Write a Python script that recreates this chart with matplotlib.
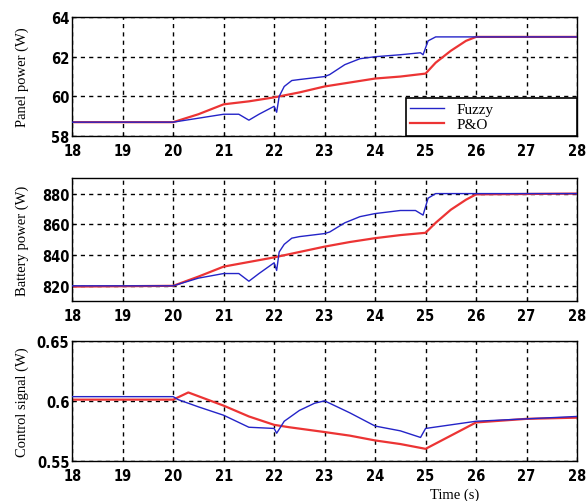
import numpy as np
import matplotlib
matplotlib.use("Agg")
import matplotlib.pyplot as plt

# ---- datos ----
# Potencia del panel (W)
t_pan_fuzzy = [18, 20, 20.5, 21, 21.3, 21.5, 21.7, 22, 22.05, 22.1, 22.2, 22.35, 22.5,
               23, 23.1, 23.4, 23.7, 24, 24.5, 24.9, 24.95, 25.05, 25.2, 26, 28]
pan_fuzzy = [58.7, 58.7, 58.9, 59.1, 59.1, 58.8, 59.1, 59.5, 59.2, 60.0, 60.5, 60.8, 60.85,
             61.0, 61.1, 61.6, 61.9, 62.0, 62.1, 62.2, 62.1, 62.8, 63.0, 63.0, 63.0]
t_pan_po = [18, 20, 20.5, 21, 21.5, 22, 22.5, 23, 23.5, 24, 24.5, 25, 25.2, 25.5, 25.8, 26, 28]
pan_po = [58.7, 58.7, 59.1, 59.6, 59.75, 59.95, 60.2, 60.5, 60.7, 60.9, 61.0, 61.15,
          61.7, 62.3, 62.8, 63.0, 63.0]

# Potencia de la bateria (W)
t_bat_fuzzy = [18, 20, 20.5, 21, 21.3, 21.5, 21.7, 22, 22.05, 22.1, 22.2, 22.35, 22.5,
               23, 23.1, 23.4, 23.7, 24, 24.5, 24.8, 24.95, 25.05, 25.2, 26, 28]
bat_fuzzy = [820, 820, 825, 828, 828, 823, 828, 835, 830, 842, 847, 851, 852,
             854, 855, 861, 865, 867, 869, 869, 866, 877, 880, 880, 880]
t_bat_po = [18, 20, 20.5, 21, 21.5, 22, 22.5, 23, 23.5, 24, 24.5, 25, 25.2, 25.5, 25.8, 26, 28]
bat_po = [819.5, 820, 826, 832.5, 835.5, 838.5, 842, 845.5, 848.5, 851, 853, 854.5,
          861, 869.5, 876, 879.5, 880]

# Senal de control
t_ctl_fuzzy = [18, 20, 20.1, 20.5, 21, 21.5, 22, 22.05, 22.2, 22.5, 22.8, 23, 23.5,
               24, 24.5, 24.9, 25.0, 25.5, 26, 27, 28]
ctl_fuzzy = [0.6035, 0.6035, 0.601, 0.595, 0.588, 0.578, 0.577, 0.573, 0.583, 0.592, 0.598,
             0.600, 0.590, 0.579, 0.575, 0.5695, 0.577, 0.580, 0.583, 0.585, 0.587]
t_ctl_po = [18, 20, 20.3, 21, 21.5, 22, 22.3, 23, 23.5, 24, 24.5, 25, 25.5, 26, 27, 28]
ctl_po = [0.601, 0.601, 0.607, 0.596, 0.587, 0.580, 0.578, 0.574, 0.571, 0.567, 0.564,
          0.560, 0.571, 0.582, 0.585, 0.586]

x_ticks = list(range(18, 29))
azul = "#2424c8"
rojo = "#ec3434"
label_font = {"family": ["Liberation Serif", "DejaVu Serif"], "size": 10.5}

fig = plt.figure(figsize=(5.87, 5.02), dpi=100)
ax1 = fig.add_axes([0.123, 0.727, 0.860, 0.237])
ax2 = fig.add_axes([0.123, 0.398, 0.860, 0.245])
ax3 = fig.add_axes([0.123, 0.080, 0.860, 0.239])

ax1.plot(t_pan_po, pan_po, color=rojo, lw=1.6, label="P&O", zorder=2)
ax1.plot(t_pan_fuzzy, pan_fuzzy, color=azul, lw=1.0, label="Fuzzy", zorder=3)
ax1.set_ylim(58, 64)
ax1.set_yticks([58, 60, 62, 64])
ax1.set_ylabel("Panel power (W)", **label_font)

ax2.plot(t_bat_po, bat_po, color=rojo, lw=1.6, zorder=2)
ax2.plot(t_bat_fuzzy, bat_fuzzy, color=azul, lw=1.0, zorder=3)
ax2.set_ylim(810, 890)
ax2.set_yticks([820, 840, 860, 880])
ax2.set_ylabel("Battery power (W)", **label_font)

ax3.plot(t_ctl_po, ctl_po, color=rojo, lw=1.6, zorder=2)
ax3.plot(t_ctl_fuzzy, ctl_fuzzy, color=azul, lw=1.0, zorder=3)
ax3.set_ylim(0.55, 0.65)
ax3.set_yticks([0.55, 0.6, 0.65])
ax3.set_yticklabels(["0.55", "0.6", "0.65"])
ax3.set_ylabel("Control signal (W)", **label_font)

for ax in (ax1, ax2, ax3):
    ax.set_xlim(18, 28)
    ax.set_xticks(x_ticks)
    ax.grid(True, color="black", linestyle=(0, (3, 3)), linewidth=1.0)
    ax.tick_params(direction="in", length=3)
    ax.tick_params(axis="x", pad=5)
    ax.tick_params(axis="y", pad=2)
    for lab in ax.get_xticklabels() + ax.get_yticklabels():
        lab.set_fontfamily("DejaVu Sans")
        lab.set_fontstretch("condensed")
        lab.set_fontweight("bold")
        lab.set_fontsize(10.5)
    for s in ax.spines.values():
        s.set_linewidth(1.0)
    ax.yaxis.set_label_coords(-0.085, 0.5)

# leyenda (orden: Fuzzy, P&O)
h, l = ax1.get_legend_handles_labels()
leg = ax1.legend(h[::-1], l[::-1], loc="lower left", bbox_to_anchor=(0.661, 0.0, 0.339, 0.395),
                 mode="expand", borderaxespad=0, fancybox=False, edgecolor="black",
                 framealpha=1, handlelength=2.2, prop={"family": "Liberation Serif", "size": 11},
                 labelspacing=0.1, borderpad=0.3)
leg.get_frame().set_linewidth(1.2)

fig.text(455 / 587, 1 - 495 / 502, "Time (s)", ha="center", va="center", **label_font)

fig.savefig("out.png", dpi=100)
